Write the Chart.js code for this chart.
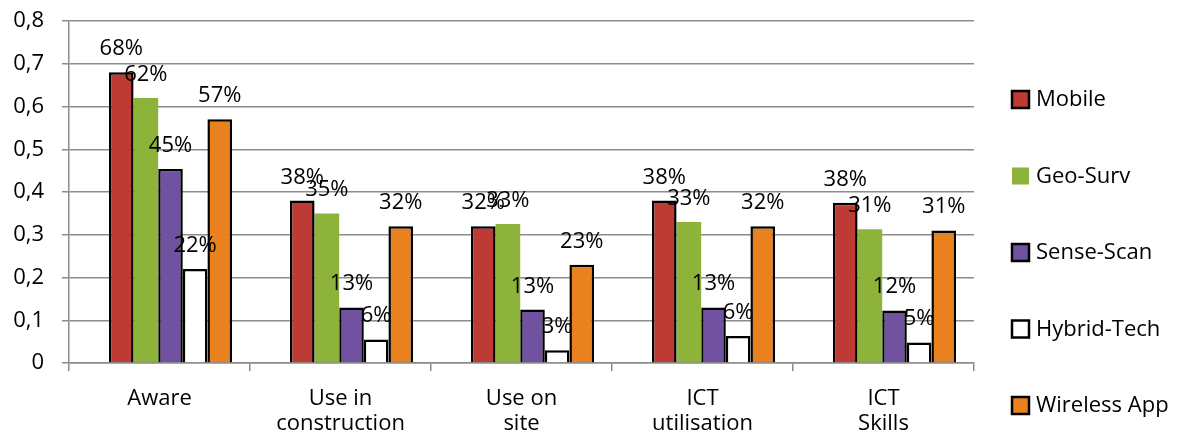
<!DOCTYPE html>
<html lang="en">
<head>
    <meta charset="UTF-8">
    <title>Awareness and use of technologies</title>
    <style>
        body {
            margin: 0; /* no margins */
            background: #fff;
        }

        .chart-box {
            width: 1181px;
            height: 442px;
        }
    </style>
</head>
<body>
    <div class="chart-box">
        <canvas id="techChart"></canvas>
    </div>

    <script src="https://cdn.jsdelivr.net/npm/chart.js"></script>
    <script>
        // Data
        const categories = [['Aware'], ['Use in', 'construction'], ['Use on', 'site'], ['ICT', 'utilisation'], ['ICT', 'Skills']];
        const mobile = [0.68, 0.38, 0.32, 0.38, 0.375];
        const geoSurv = [0.62, 0.35, 0.325, 0.33, 0.313];
        const senseScan = [0.454, 0.13, 0.125, 0.13, 0.123];
        const hybridTech = [0.22, 0.055, 0.03, 0.063, 0.048];
        const wirelessApp = [0.57, 0.32, 0.23, 0.32, 0.31];
        const yTicks = [0, 0.1, 0.2, 0.3, 0.4, 0.5, 0.6, 0.7, 0.8];

        const FONT = "'Open Sans', sans-serif";
        // in the original the bar groups sit a bit right of the category centre
        const GROUP_SHIFT = 11 / 181;

        // bars go on a hidden linear axis so the group can be nudged right
        const toPoints = (arr) => arr.map((v, i) => ({ x: i, y: v }));

        // Percent labels above each bar
        const valueLabels = {
            id: 'valueLabels',
            afterDatasetsDraw(chart) {
                const ctx = chart.ctx;
                ctx.save();
                ctx.font = '22px ' + FONT;
                ctx.fillStyle = '#000';
                ctx.textAlign = 'center';
                ctx.textBaseline = 'alphabetic';
                chart.data.datasets.forEach((ds, i) => {
                    chart.getDatasetMeta(i).data.forEach((bar, j) => {
                        ctx.fillText(Math.round(ds.data[j].y * 100) + '%', bar.x, bar.y - 17);
                    });
                });
                ctx.restore();
            }
        };

        // Legend on the right, spaced like the original
        const sideLegend = {
            id: 'sideLegend',
            afterDraw(chart) {
                const ctx = chart.ctx;
                ctx.save();
                ctx.font = '22px ' + FONT;
                ctx.textBaseline = 'middle';
                chart.data.datasets.forEach((ds, i) => {
                    const y = 99 + i * 76.5;
                    ctx.fillStyle = ds.backgroundColor;
                    ctx.fillRect(1012, y - 8, 17, 17);
                    if (ds.borderWidth > 0) {
                        ctx.strokeStyle = '#000';
                        ctx.lineWidth = 2.5;
                        ctx.strokeRect(1012, y - 8, 17, 17);
                    }
                    ctx.fillStyle = '#000';
                    ctx.fillText(ds.label, 1036, y + 1);
                });
                ctx.restore();
            }
        };

        const ctx = document.getElementById('techChart').getContext('2d');
        const techChart = new Chart(ctx, {
            type: 'bar',
            data: {
                labels: categories,
                datasets: [
                    { label: 'Mobile', data: toPoints(mobile), backgroundColor: '#BE3A34', borderColor: '#000', borderWidth: 2.5 },
                    { label: 'Geo-Surv', data: toPoints(geoSurv), backgroundColor: '#8DB33B', borderColor: '#000', borderWidth: 0 },
                    { label: 'Sense-Scan', data: toPoints(senseScan), backgroundColor: '#7152A0', borderColor: '#000', borderWidth: 2.5 },
                    { label: 'Hybrid-Tech', data: toPoints(hybridTech), backgroundColor: '#FFFFFF', borderColor: '#000', borderWidth: 2.5 },
                    { label: 'Wireless App', data: toPoints(wirelessApp), backgroundColor: '#E8811E', borderColor: '#000', borderWidth: 2.5 }
                ]
            },
            options: {
                responsive: true,
                maintainAspectRatio: false,
                animation: false,
                layout: {
                    padding: { top: 21, right: 207, bottom: 0, left: 0 }
                },
                datasets: {
                    bar: { xAxisID: 'xb', categoryPercentage: 0.68, barPercentage: 1 }
                },
                scales: {
                    xb: {
                        type: 'linear',
                        display: false,
                        offset: false,
                        min: -0.5 - GROUP_SHIFT,
                        max: categories.length - 0.5 - GROUP_SHIFT
                    },
                    x: {
                        type: 'category',
                        afterFit: (axis) => { axis.height = 79; },
                        grid: {
                            offset: true,
                            drawOnChartArea: false,
                            color: '#8c8c8c',
                            lineWidth: 1.5,
                            tickLength: 8
                        },
                        border: { color: '#8c8c8c', width: 1.5 },
                        ticks: {
                            color: '#000',
                            padding: 15,
                            maxRotation: 0,
                            font: { family: FONT, size: 22, lineHeight: 1.14 }
                        }
                    },
                    y: {
                        min: 0,
                        max: 0.8,
                        afterFit: (axis) => {
                            axis.width = 69;
                            axis.paddingTop = 0;
                            axis.paddingBottom = 0;
                        },
                        afterBuildTicks: (axis) => { axis.ticks = yTicks.map(v => ({ value: v })); },
                        grid: {
                            color: '#8c8c8c',
                            lineWidth: 1.5,
                            tickLength: 7
                        },
                        border: { color: '#8c8c8c', width: 1.5 },
                        ticks: {
                            color: '#000',
                            padding: 18,
                            font: { family: FONT, size: 22 },
                            callback: (v) => v === 0 ? '0' : v.toFixed(1).replace('.', ',')
                        }
                    }
                },
                plugins: {
                    legend: { display: false },
                    tooltip: { enabled: false }
                }
            },
            plugins: [valueLabels, sideLegend]
        });
    </script>
</body>
</html>
